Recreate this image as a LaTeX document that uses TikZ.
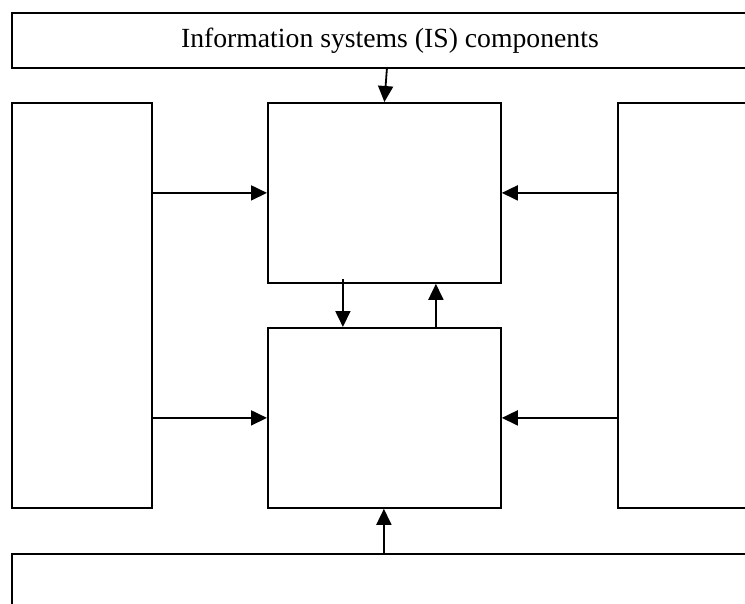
\documentclass[tikz,border=0pt]{standalone}
\usepackage{fontspec}
\setmainfont{Liberation Serif}
\usetikzlibrary{arrows.meta}

\begin{document}
\begin{tikzpicture}[x=1pt, y=-1pt]
        \tikzstyle{block}=[draw,line width=1.8pt,inner sep=0pt,anchor=north west]
        \tikzstyle{arr}=[line width=1.8pt,-{Triangle[length=16pt,width=15pt]}]

        \clip (0,0) rectangle (745,603);
        \fill[white] (0,0) rectangle (745,603);

        \node[block,minimum width=756pt,minimum height=55pt] (info) at (11,12) {\raisebox{-3pt}{\fontsize{27.7}{32}\selectfont Information systems (IS) components}};
        \node[block,minimum width=140pt,minimum height=405pt] (lft) at (11,102) {};
        \node[block,minimum width=233pt,minimum height=180pt] (proc) at (267,102) {};
        \node[block,minimum width=233pt,minimum height=180pt] (data) at (267,327) {};
        \node[block,minimum width=160pt,minimum height=405pt] (rgt) at (617,102) {};
        \node[block,minimum width=756pt,minimum height=90pt] (bot) at (11,553) {};

        \draw[arr] ([xshift=-3pt]info.south) -- (proc.north);
        \draw[arr] (lft.east |- proc.west) -- (proc.west);
        \draw[arr] (lft.east |- data.west) -- (data.west);
        \draw[arr] (rgt.west |- proc.east) -- (proc.east);
        \draw[arr] (rgt.west |- data.east) -- (data.east);
        \draw[arr] ([shift={(-41.5,-5)}]proc.south) -- ([xshift=-41.5pt]data.north);
        \draw[arr] ([xshift=51.5pt]data.north) -- ([xshift=51.5pt]proc.south);
        \draw[arr] ([xshift=-0.5pt]data.south |- bot.north) -- ([xshift=-0.5pt]data.south);
    \end{tikzpicture}
\end{document}
